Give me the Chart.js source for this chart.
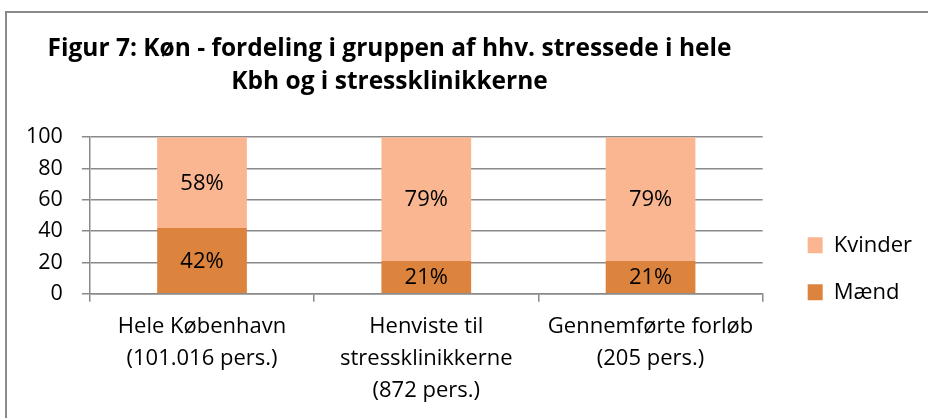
<!DOCTYPE html>
<html>
<head>
<meta charset="utf-8">
<script src="https://cdn.jsdelivr.net/npm/chart.js@4/dist/chart.umd.min.js"></script>
<style>
    html, body { margin: 0; padding: 0; background: #ffffff; overflow: hidden; }
    #frame { position: absolute; left: 5px; top: 11px; width: 1000px; height: 500px; border: 2px solid #8a8a8a; }
    #chartContainer { position: absolute; left: 0; top: 0; width: 928px; height: 418px; }
</style>
</head>
<body>
<div id="frame"></div>
<div id="chartContainer"><canvas id="chart"></canvas></div>
<script>
// Kategorien (x-Achse, mehrzeilig)
const categories = [
    ["Hele København", "(101.016 pers.)"],
    ["Henviste til", "stressklinikkerne", "(872 pers.)"],
    ["Gennemførte forløb", "(205 pers.)"]
];

// Anteile in Prozent
const maendValues = [42, 21, 21];
const kvinderValues = [58, 79, 79];

const yTicks = [0, 20, 40, 60, 80, 100];

const titleLines = ["Figur 7: Køn - fordeling i gruppen af hhv. stressede i hele", "Kbh og i stressklinikkerne"];

const fontFamily = "'Open Sans', sans-serif";
const gridColor = '#8a8a8a';

// Prozent-Beschriftung mitten in jedem Balkenstück
const barLabels = {
    id: 'barLabels',
    afterDatasetsDraw(chart) {
        const ctx = chart.ctx;
        ctx.save();
        ctx.font = "22px " + fontFamily;
        ctx.fillStyle = '#000000';
        ctx.textAlign = 'center';
        ctx.textBaseline = 'middle';
        chart.data.datasets.forEach(function (ds, i) {
            chart.getDatasetMeta(i).data.forEach(function (bar, j) {
                const p = bar.getProps(['x', 'y', 'base'], true);
                ctx.fillText(ds.data[j] + '%', p.x, (p.y + p.base) / 2 + 1);
            });
        });
        ctx.restore();
    }
};

// Titel und Legende etwas verschieben (wie im Original)
const nudge = {
    id: 'nudge',
    afterLayout(chart) {
        const t = chart.titleBlock;
        t.left -= 65;
        t.right -= 65;
        const l = chart.legend;
        l.left += 20;
        l.right += 20;
        l.top += 61;
        l.bottom += 61;
    }
};

const data = {
    labels: categories,
    datasets: [{
        label: 'Mænd',
        data: maendValues,
        backgroundColor: '#dc843e',
        barPercentage: 0.4,
        categoryPercentage: 1.0
    }, {
        label: 'Kvinder',
        data: kvinderValues,
        backgroundColor: '#f9b690',
        barPercentage: 0.4,
        categoryPercentage: 1.0
    }]
};

const config = {
    type: 'bar',
    data: data,
    plugins: [barLabels, nudge],
    options: {
        responsive: true,
        maintainAspectRatio: false,
        animation: false,
        layout: {
            padding: { left: 7, right: 26, top: 0, bottom: 2.5 }
        },
        plugins: {
            title: {
                display: true,
                text: titleLines,
                color: '#000000',
                font: { family: fontFamily, size: 24.5, weight: 'bold', lineHeight: 1.37 },
                padding: { top: 32, bottom: 38 }
            },
            legend: {
                position: 'right',
                reverse: true,
                labels: {
                    color: '#000000',
                    font: { family: fontFamily, size: 22 },
                    boxWidth: 15,
                    boxHeight: 16,
                    padding: 25
                }
            },
            tooltip: { enabled: false }
        },
        scales: {
            x: {
                stacked: true,
                grid: {
                    display: true,
                    drawOnChartArea: false,
                    drawTicks: true,
                    tickLength: 8,
                    color: gridColor,
                    lineWidth: 1.5
                },
                border: { display: true, color: gridColor, width: 1.5 },
                ticks: {
                    color: '#000000',
                    font: { family: fontFamily, size: 22, lineHeight: 1.45 },
                    padding: 9,
                    maxRotation: 0,
                    autoSkip: false
                }
            },
            y: {
                stacked: true,
                min: yTicks[0],
                max: yTicks[yTicks.length - 1],
                afterBuildTicks: function (axis) {
                    axis.ticks = yTicks.map(function (v) { return { value: v }; });
                },
                grid: {
                    color: gridColor,
                    lineWidth: 1.5,
                    tickLength: 8
                },
                border: { display: true, color: gridColor, width: 1.5 },
                ticks: {
                    color: '#000000',
                    font: { family: fontFamily, size: 21.5 },
                    padding: 19
                }
            }
        }
    }
};

new Chart(document.getElementById('chart'), config);
</script>
</body>
</html>
